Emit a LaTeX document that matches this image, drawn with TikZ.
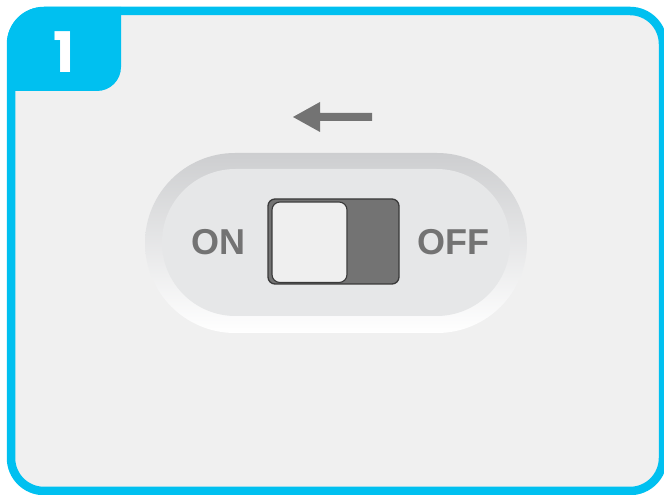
\documentclass[tikz,border=0pt]{standalone}
\usepackage{fontspec}
\setmainfont{Liberation Sans}
\newfontfamily\badgefont{Poppins}
\definecolor{framecyan}{HTML}{00C0F0}
\definecolor{panelbg}{HTML}{F0F0F0}
\definecolor{swgray}{HTML}{737373}
\definecolor{swdark}{HTML}{3A3A3A}
\definecolor{pillin}{HTML}{E6E7E8}
\definecolor{pilltop}{HTML}{CDCED0}
\definecolor{knobfill}{HTML}{EFEFEF}
\tikzset{
  lbl/.style={font=\fontsize{36}{40}\selectfont\bfseries, text=swgray, inner sep=0pt},
  badgetxt/.style={font=\badgefont\fontsize{56}{60}\selectfont\bfseries, text=white, inner sep=0pt}
}
\begin{document}
\begin{tikzpicture}[x=1pt,y=1pt]
\useasboundingbox (0,0) rectangle (664,495);
% frame
\draw[framecyan, line width=8.5pt, fill=panelbg, rounded corners=33pt] (11,4) rectangle (663,484);
% badge
\fill[framecyan] (7,404) -- (7,451) arc[start angle=180,end angle=90,radius=37pt] -- (121,488) -- (121,428) arc[start angle=0,end angle=-90,radius=24pt] -- cycle;
\node[badgetxt] (num) at (64,443) {1};
% arrow
\fill[swgray] (293,378) -- (320,393) -- (320,382) -- (372,382) -- (372,374) -- (320,374) -- (320,363) -- cycle;
% pill
\shade[top color=pilltop, middle color=white, bottom color=white, rounded corners=90pt] (145,162) rectangle (527,342);
\fill[pillin, rounded corners=73.5pt] (162,179) rectangle (510,326);
% switch
\draw[fill=swgray, draw=swdark, line width=1.3pt, rounded corners=7pt] (268,211) rectangle (399,296);
\draw[fill=knobfill, draw=swdark, line width=1.1pt, rounded corners=8pt] (272,212.5) rectangle (347,293);
% labels
\node[lbl] (on) at (218,253) {ON};
\node[lbl] (off) at (453,253) {OFF};
\end{tikzpicture}
\end{document}
